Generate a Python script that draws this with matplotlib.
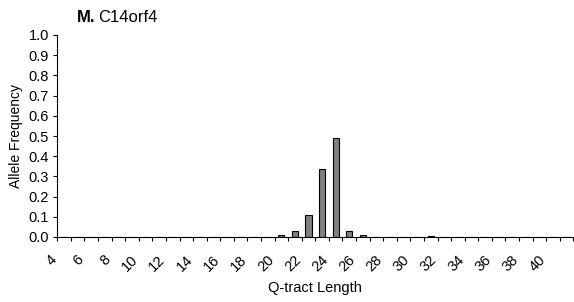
import numpy as np
import matplotlib
matplotlib.use("Agg")
import matplotlib.pyplot as plt
from matplotlib.transforms import ScaledTranslation

plt.rcParams['font.family'] = ['Liberation Sans', 'DejaVu Sans']

# Q-tract lengths 4..41 and allele frequencies
lengths = list(range(4, 42))
freq = {20: 0.008, 21: 0.028, 22: 0.107, 23: 0.337, 24: 0.489,
        25: 0.028, 26: 0.008, 31: 0.007}
values = [freq.get(q, 0.0) for q in lengths]
y_ticks = [0.0, 0.1, 0.2, 0.3, 0.4, 0.5, 0.6, 0.7, 0.8, 0.9, 1.0]
x_labels = [str(q) for q in lengths if q % 2 == 0 and q <= 40]

fig = plt.figure(figsize=(5.74, 3.02), dpi=100)
ax = fig.add_axes([57.3 / 574, 1 - 237 / 302, (573.3 - 57.3) / 574, (237 - 35) / 302])

pos = np.arange(len(lengths))
ax.bar(pos, values, width=0.45, color='#808080', edgecolor='black', linewidth=0.8)

ax.set_xlim(-0.5, len(lengths) - 0.5)
ax.set_ylim(0, 1.0)

for s in ['top', 'right']:
    ax.spines[s].set_visible(False)
for s in ['left', 'bottom']:
    ax.spines[s].set_linewidth(0.8)

ax.set_yticks(y_ticks)
ax.set_yticklabels([f"{v:.1f}" for v in y_ticks])
ax.tick_params(axis='y', direction='out', length=3, width=0.8, pad=3, labelsize=10.5)

# labels sit at the left boundary of each even category (Excel style)
major = [lengths.index(int(l)) - 0.5 for l in x_labels]
ax.set_xticks(major)
ax.set_xticklabels(x_labels, rotation=45, ha='right', va='top')
ax.set_xticks(np.arange(len(lengths) + 1) - 0.5, minor=True)
ax.tick_params(axis='x', which='both', direction='out', length=3, width=0.8)
ax.tick_params(axis='x', which='major', pad=8, labelsize=10.5)
for lab in ax.get_xticklabels():
    lab.set_transform(lab.get_transform() + ScaledTranslation(2 / 100, 0, fig.dpi_scale_trans))

ax.set_xlabel('Q-tract Length', fontsize=10.5, labelpad=5)
ax.set_ylabel('Allele Frequency', fontsize=10, labelpad=4)

t1 = fig.text(77 / 574, 1 - 22 / 302, 'M.', fontsize=12, fontweight='bold', va='baseline')
fig.canvas.draw()
bb = t1.get_window_extent()
fig.text((bb.x1 + 3) / fig.bbox.width, 1 - 22 / 302, 'C14orf4', fontsize=12, va='baseline')

fig.savefig('out.png', dpi=100)
